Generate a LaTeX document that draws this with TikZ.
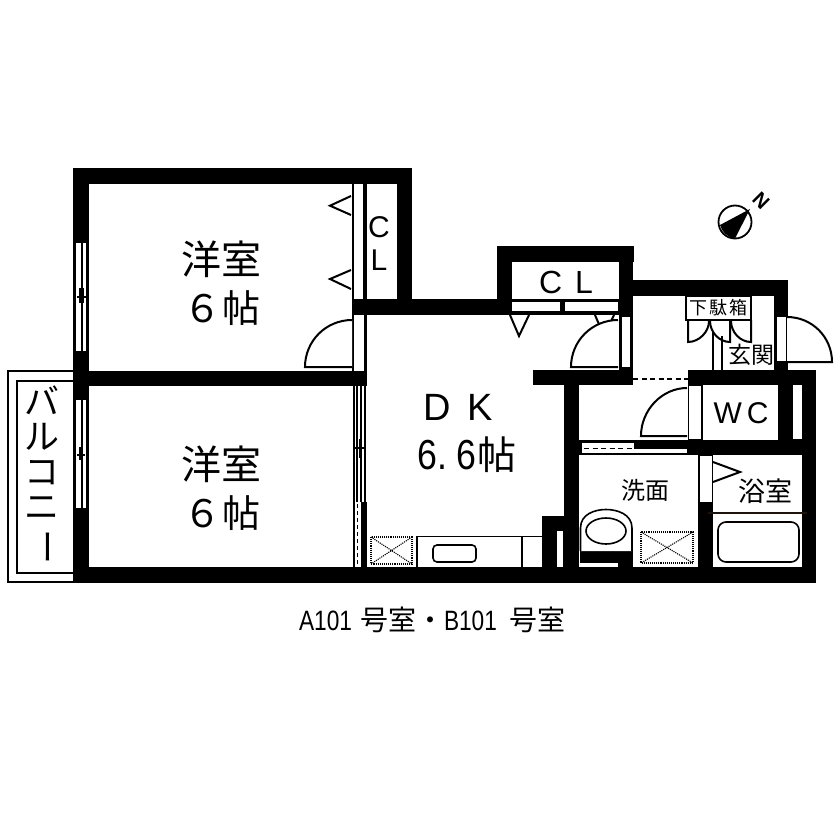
\documentclass[tikz,border=0pt]{standalone}
\usepackage{graphicx}
\usepackage{fontspec}
\setmainfont{Noto Sans CJK JP}
\newfontfamily\latfont{Liberation Sans}
\newcommand{\tsz}[1]{\fontsize{#1}{#1}\selectfont}
\tikzset{
  wall/.style={fill=black,draw=none},
  gap/.style={fill=white,draw=none},
  thin line/.style={draw=black,line width=1.6pt},
  door/.style={draw=black,line width=2pt,fill=white,line join=miter},
  catch/.style={draw=black,line width=2pt,fill=white},
  pan/.style={draw=black,line width=1.1pt,densely dotted},
  label/.style={inner sep=0pt,outer sep=0pt,align=center,text=black},
}
\begin{document}
\begin{tikzpicture}[x=1pt,y=-1pt]
\useasboundingbox (0,0) rectangle (840,840);
\fill[white] (0,0) rectangle (840,840);

% balcony
\draw[thin line,line width=2pt] (74,370.5) -- (7.5,370.5) -- (7.5,582) -- (74,582);
\draw[thin line,line width=2pt] (74,381) -- (16.5,381) -- (16.5,573) -- (74,573);

% outer and inner walls
\fill[wall] (73,168) rectangle (412,183.5);
\fill[wall] (73,168) rectangle (88.5,582.5);
\fill[wall] (73,371) rectangle (366.5,386);
\fill[wall] (397,168) rectangle (412,315);
\fill[wall] (352,299) rectangle (512,315);
\fill[wall] (352,183) rectangle (366.5,386);
\fill[wall] (497,246) rectangle (634,262);
\fill[wall] (497,246) rectangle (512,315);
\fill[wall] (619,246) rectangle (633,385);
\fill[wall] (505,299) rectangle (633,315);
\fill[wall] (633,280) rectangle (787,296);
\fill[wall] (773.5,280) rectangle (787.5,370);
\fill[wall] (533,370) rectangle (633,385);
\fill[wall] (688,370) rectangle (816,385);
\fill[wall] (564,370) rectangle (579,582);
\fill[wall] (73,567) rectangle (816,582.5);
\fill[wall] (802,370) rectangle (816,582.5);
\fill[wall] (778,370) rectangle (793,455);
\fill[wall] (793,370) rectangle (802,455);
\fill[wall] (579,439.5) rectangle (816,455);
\fill[wall] (688,385) rectangle (703,455);
\fill[wall] (698,439.5) rectangle (713,582);
\fill[wall] (542,516) rectangle (564,567);
\fill[wall] (580,551) rectangle (633,567);
\fill[wall] (353,502) rectangle (366.5,567);

% left windows
\fill[gap] (75,242) rectangle (87,352);
\fill[gap] (75,399) rectangle (87,509);
\foreach \wy/\wz in {242/352,399/509}{
  \draw[thin line] (75,\wy) -- (75,\wz);
  \draw[thin line] (82,\wy) -- (82,\wz);
  \draw[thin line] (87,\wy) -- (87,\wz);
  \draw[thin line] (75,\wy) -- (87,\wy);
  \draw[thin line] (75,\wz) -- (87,\wz);
}
\draw[thin line] (77,297) -- (86,297) (80,288) -- (80,303) (83,288) -- (83,303);
\draw[thin line] (77,455) -- (85,455) (80,447) -- (80,460);

% interior openings and strips
\fill[gap] (354,183.5) rectangle (363,298.5);
\fill[gap] (367,183.5) rectangle (397,299);
\fill[gap] (354,315) rectangle (363.5,371);
\fill[gap] (512,262) rectangle (619,299);
\fill[gap] (512,302) rectangle (560,311);
\fill[gap] (565,302) rectangle (618,311);
\fill[gap] (622,317) rectangle (630,367);
\fill[gap] (633,296) rectangle (773.5,370);
\fill[gap] (777,317) rectangle (786,361);
\fill[gap] (689,386) rectangle (701,439);
\fill[gap] (703,385) rectangle (778,439);
\fill[gap] (793,385) rectangle (802,439);
\fill[gap] (579,385) rectangle (688,440);
\fill[gap] (582,443) rectangle (634,453);
\fill[gap] (634,449) rectangle (687,453);
\fill[gap] (700,456) rectangle (711.5,502);
\fill[gap] (579,563) rectangle (618,567);
\fill[gap] (557,531) rectangle (563,567);

% sliding door between bedroom and DK
\fill[gap] (354,386) rectangle (365,502);
\fill[gap] (354,502) rectangle (361,567);
\draw[thin line] (353.7,386) -- (353.7,567);
\draw[thin line] (357,386) -- (357,502);
\draw[thin line] (361,386) -- (361,502);
\draw[thin line] (365.2,386) -- (365.2,502);
\draw[thin line,dashed,dash pattern=on 4pt off 3pt] (357.5,504) -- (357.5,567);
\draw[thin line] (355,448) -- (364,448) (360,439) -- (360,458);

% dashed thresholds
\draw[thin line,dash pattern=on 5pt off 3.5pt] (633,379) -- (688,379);
\draw[thin line,dash pattern=on 5pt off 3.5pt] (584,448.5) -- (634,448.5);

% doors and catches
\draw[catch] (351,196) -- (330,205.7) -- (351,215);
\draw[catch] (351,270) -- (330,279) -- (351,289);
\draw[catch] (510,315) -- (519,336) -- (529,315);
\draw[catch] (595,315) -- (604,336) -- (614,315);
\draw[door] (352,320) .. controls (326,320) and (305,341) .. (305,367) -- (352,367);
\draw[door] (618,320) .. controls (592,320) and (571,341) .. (571,367) -- (618,367);
\draw[door] (687,388) .. controls (662,388) and (641,410) .. (641,436) -- (687,436);
\draw[door] (787,317) .. controls (812,317) and (832,337) .. (832,362) -- (787,362);
\draw[catch] (713,462) -- (740,472) -- (713,482);

% shoe cupboard
\draw[thin line,line width=2pt,fill=white] (686,296) rectangle (751,320);
\draw[thin line] (713,332) -- (713,370);
\draw[thin line] (722,336) -- (722,370);
\draw[door,fill=none] (688,320) -- (688,342) .. controls (699,342) and (709,332) .. (709,321);
\draw[door,fill=none] (710,321) .. controls (710,332) and (719,342) .. (730,342) -- (730,320);
\draw[door,fill=none] (731,321) .. controls (731,332) and (740,342) .. (751,342) -- (751,320);

% kitchen
\draw[pan] (371,537) rectangle (412,564);
\draw[pan] (371,537) -- (412,564) (412,537) -- (371,564);
\draw[thin line] (417,567) -- (417,536.5) -- (542,536.5);
\draw[thin line] (522,536.5) -- (522,567);
\draw[thin line,rounded corners=4pt] (433,545) rectangle (476,562);

% washroom
\draw[thin line,fill=white] (580.5,551) -- (580.5,528) .. controls (580.5,514) and (595,509.5) .. (606,509.5) .. controls (617,509.5) and (632,514) .. (632,528) -- (632,551);
\draw[thin line] (606,531) ellipse [x radius=20,y radius=13];
\draw[pan] (641,532) rectangle (693,563);
\draw[pan] (641,532) -- (693,563) (693,532) -- (641,563);

% bath
\draw[draw=black!85!brown,line width=2pt] (708,513) -- (807,513);
\draw[thin line,rounded corners=8pt] (718,522) rectangle (799,562);

% compass
\draw[draw=black,line width=1.8pt,fill=white] (735,222) circle [radius=16.5];
\fill[black] (750,209) -- (720,225) .. controls (722,232) and (727,237) .. (735,238.5) -- cycle;
\node[label,font=\latfont\bfseries\tsz{20},rotate=-45] (north) at (761,201) {N};

% labels
\node[label,font=\tsz{40}] (roomA) at (221,259) {洋室};
\node[label,font=\tsz{38}] (sixA) at (222,308) {６\hspace{2pt}帖};
\node[label,font=\tsz{40}] (roomB) at (221,464) {洋室};
\node[label,font=\tsz{38}] (sixB) at (222,513) {６\hspace{2pt}帖};
\node[label,font=\latfont\tsz{38}] (dk) at (458,407) {D\hspace{17pt}K};
\node[label,font=\tsz{39}] (dksize) at (467,455) {{\latfont\tsz{42}\scalebox{.85}[1]{6.\ 6}}\hspace{1pt}帖};
\node[label,font=\latfont\tsz{30}] (clA) at (379,244) {C\\[3pt]L};
\node[label,font=\latfont\tsz{32}] (clB) at (566,282) {C\hspace{13pt}L};
\node[label,font=\latfont\tsz{30}] (wc) at (741,413) {W\hspace{5pt}C};
\node[label,font=\tsz{18}] (shoe) at (718.5,308) {下\hspace{2pt}駄\hspace{2pt}箱};
\node[label,font=\tsz{23}] (entry) at (751,355) {玄関};
\node[label,font=\tsz{24}] (wash) at (645,490) {洗面};
\node[label,font=\tsz{27}] (bath) at (765,491) {浴室};
\node[label,font=\tsz{35},inner sep=0pt] (balcony) at (42,475) {\setlength{\baselineskip}{34pt}バ\\ル\\コ\\ニ\\\rotatebox[origin=c]{-90}{ー}};
\node[label,font=\tsz{28}] (caption) at (432.5,620) {{\latfont\scalebox{.81}[1]{A101}}\hspace{8pt}号室・{\latfont\scalebox{.81}[1]{B101}}\hspace{13pt}号室};
\end{tikzpicture}
\end{document}
